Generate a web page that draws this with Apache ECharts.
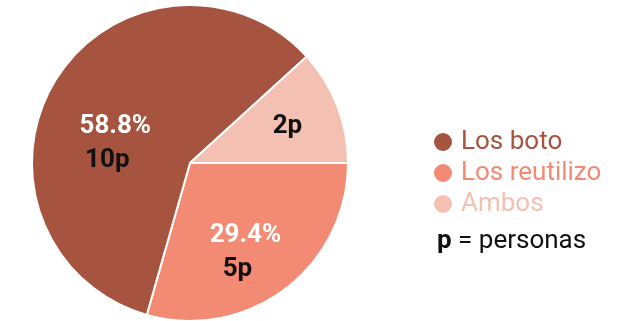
<!DOCTYPE html>
<html>
<head>
<meta charset="utf-8">
<script src="https://cdn.jsdelivr.net/npm/echarts@6/dist/echarts.min.js"></script>
<style>
  html, body { margin: 0; padding: 0; background: #ffffff; }
  #chart { width: 631px; height: 321px; }
</style>
</head>
<body>
<div id="chart"></div>
<script>
// Respuestas: qué hacen con el envase
const categories = ['Los boto', 'Los reutilizo', 'Ambos'];
const personas = [10, 5, 2];
const percentLabels = ['58.8%', '29.4%', ''];
const colors = ['#A6533F', '#F28A74', '#F3C0B1'];

// Slice drawing order (starting at 3 o'clock, clockwise): reutilizo, boto, ambos
const drawOrder = [1, 0, 2];
// Label nudges, per category
const labelShift = [[-5, 24], [6, 24], [29, -7]];

const pieData = drawOrder.map(i => ({
  name: categories[i],
  value: personas[i],
  itemStyle: { color: colors[i] },
  label: {
    formatter: percentLabels[i]
      ? '{pct|' + percentLabels[i] + '}\n{n|' + personas[i] + 'p}'
      : '{n|' + personas[i] + 'p}'
  }
}));

const labelFont = 'Roboto';

const chart = echarts.init(document.getElementById('chart'), null, { renderer: 'canvas' });
chart.setOption({
  animation: false,
  backgroundColor: '#ffffff',
  legend: {
    orient: 'vertical',
    left: 427,
    top: 124,
    icon: 'circle',
    itemWidth: 20,
    itemHeight: 20,
    itemGap: 5,
    selectedMode: false,
    data: categories.map((c, i) => ({
      name: c,
      textStyle: { color: colors[i] }
    })),
    textStyle: {
      fontFamily: 'Roboto',
      fontSize: 26,
      lineHeight: 22,
      padding: [0, 0, 0, 3]
    }
  },
  graphic: [{
    type: 'text',
    left: 437,
    top: 228,
    style: {
      text: '{b|p} = personas',
      fill: '#111111',
      font: '26px Roboto',
      rich: {
        b: { fontFamily: 'Roboto', fontSize: 26, fontWeight: 'bold', fill: '#111111' }
      }
    }
  }],
  series: [{
    type: 'pie',
    center: [190, 163],
    radius: [0, 158],
    startAngle: 0,
    clockwise: true,
    avoidLabelOverlap: false,
    itemStyle: { borderColor: '#ffffff', borderWidth: 2 },
    label: {
      show: true,
      position: 'inside',
      rich: {
        pct: {
          fontFamily: labelFont,
          fontWeight: 'bold',
          fontSize: 26,
          color: '#ffffff',
          lineHeight: 34
        },
        n: {
          fontFamily: labelFont,
          fontWeight: 'bold',
          fontSize: 26,
          color: '#111111',
          lineHeight: 34,
          padding: [0, 16, 0, 0]
        }
      }
    },
    labelLine: { show: false },
    labelLayout: function (params) {
      const cat = drawOrder[params.dataIndex];
      return { dx: labelShift[cat][0], dy: labelShift[cat][1] };
    },
    emphasis: { disabled: true },
    data: pieData
  }]
});
</script>
</body>
</html>
